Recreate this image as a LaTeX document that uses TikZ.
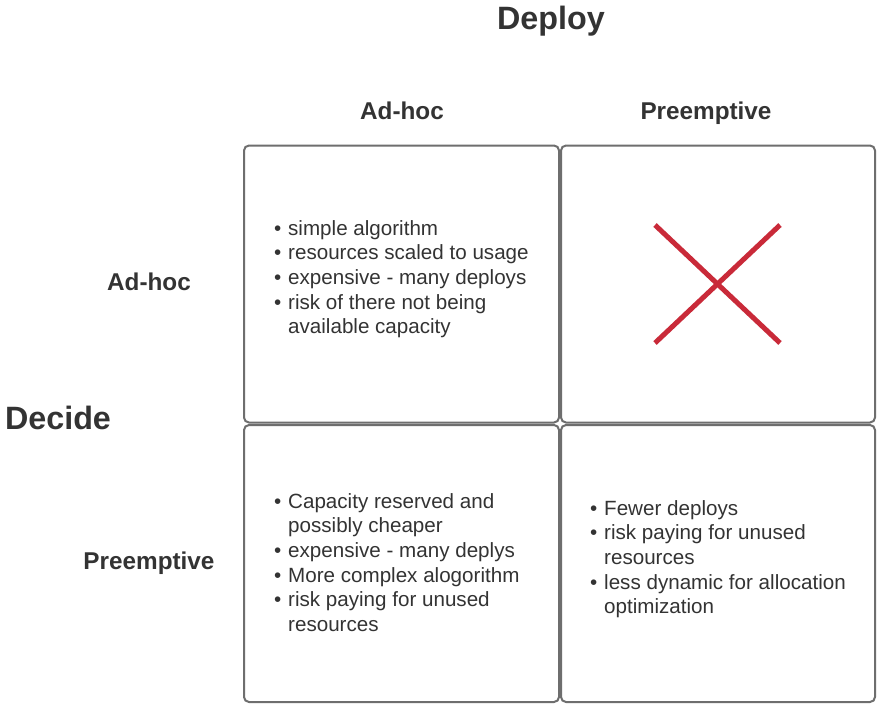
\documentclass[tikz,border=0pt]{standalone}
\usepackage{fontspec}
\setmainfont{Liberation Sans}
\usepackage{array}
\definecolor{ink}{HTML}{333333}
\definecolor{frame}{HTML}{6E6E6E}
\definecolor{cross}{HTML}{C92A39}
\begin{document}
\begin{tikzpicture}[x=1pt,y=-1pt,
  cell/.style={draw=frame,line width=2pt,rounded corners=5pt,minimum width=#1,minimum height=277pt,inner sep=0pt},
  title/.style={text=ink,font=\fontsize{32.3}{38}\selectfont\bfseries,anchor=base,inner sep=0pt},
  header/.style={text=ink,font=\fontsize{24.3}{28}\selectfont\bfseries,anchor=base,inner sep=0pt},
  body/.style={text=ink,font=\fontsize{20.6}{24.7}\selectfont,anchor=base west,inner sep=0pt},
  xmark/.style={draw=cross,line width=5pt}]
\useasboundingbox (0,0) rectangle (877,704);
\fill[white] (0,0) rectangle (877,704);

% the four cells of the matrix
\node[cell=315pt] (c11) at (401.5,284) {};
\node[cell=314pt] (c12) at (718,284) {};
\node[cell=315pt] (c21) at (401.5,563.5) {};
\node[cell=314pt] (c22) at (718,563.5) {};

% axis titles and headings
\node[title] (deploy) at (551,29) {Deploy};
\node[title] (decide) at (58,429) {Decide};
\node[header] (colA) at (402,119) {Ad-hoc};
\node[header] (colP) at (706,119) {Preemptive};
\node[header] (rowA) at (149,290) {Ad-hoc};
\node[header] (rowP) at (149,569) {Preemptive};

% cell contents
\node[body] (t11) at (274,235) {\begin{tabular}[t]{@{}p{14pt}@{}l@{}}
\textbullet & simple algorithm\\
\textbullet & resources scaled to usage\\
\textbullet & expensive - many deploys\\
\textbullet & risk of there not being\\
 & available capacity
\end{tabular}};

\node[body] (t21) at (274,508) {\begin{tabular}[t]{@{}p{14pt}@{}l@{}}
\textbullet & Capacity reserved and\\
 & possibly cheaper\\
\textbullet & expensive - many deplys\\
\textbullet & More complex alogorithm\\
\textbullet & risk paying for unused\\
 & resources
\end{tabular}};

\node[body] (t22) at (590,515) {\begin{tabular}[t]{@{}p{14pt}@{}l@{}}
\textbullet & Fewer deploys\\
\textbullet & risk paying for unused\\
 & resources\\
\textbullet & less dynamic for allocation\\
 & optimization
\end{tabular}};

% the excluded combination
\coordinate (xa) at (655,225);
\coordinate (xb) at (780,343);
\coordinate (xc) at (655,343);
\coordinate (xd) at (780,225);
\draw[xmark] (xa) -- (xb);
\draw[xmark] (xc) -- (xd);
\end{tikzpicture}
\end{document}
